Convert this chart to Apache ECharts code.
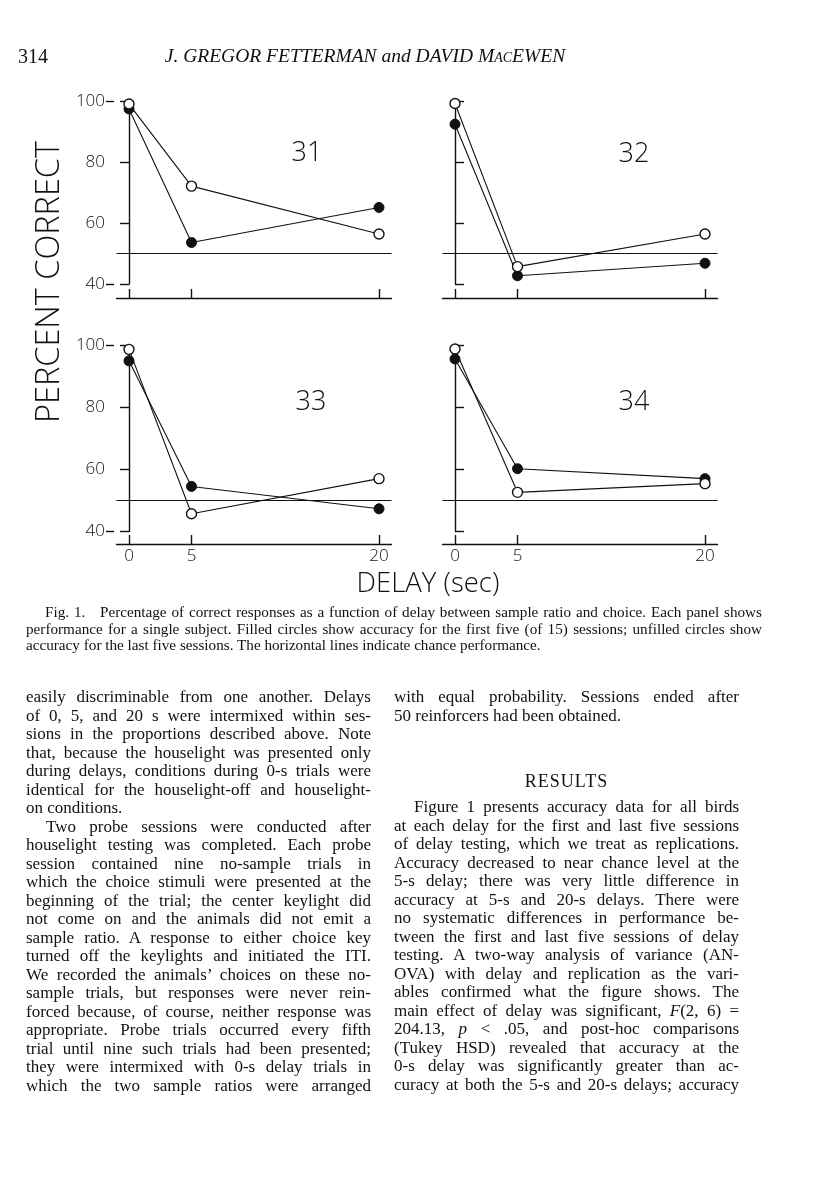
<!DOCTYPE html>
<html>
<head>
<meta charset="utf-8">
<script src="https://cdn.jsdelivr.net/npm/echarts@6/dist/echarts.min.js"></script>
<style>
  html, body { margin: 0; padding: 0; background: #fff; }
  #page { position: relative; width: 816px; height: 1200px; overflow: hidden; }
  #chart { position: absolute; left: 0; top: 0; width: 816px; height: 1200px; }
  .txt { position: absolute; font-family: "Liberation Serif", "Times New Roman", serif; color: #111; }
  .col { font-size: 17px; line-height: 18.5px; width: 345px; }
  .ln { display: block; white-space: nowrap; text-align: justify; text-align-last: justify; }
  .end { text-align-last: left; }
  .ind { padding-left: 20px; }
  .cap { font-size: 15.2px; line-height: 16.5px; width: 736px; }
  .sc { font-variant: small-caps; }
</style>
</head>
<body>
<div id="page">
  <div id="chart"></div>
  <div class="txt" style="left:18px; top:45px; font-size:20px;">314</div>
  <div class="txt" style="left:160px; top:45px; width:410px; text-align:center; font-size:19.5px; font-style:italic; white-space:nowrap;">J. GREGOR FETTERMAN and DAVID M<span class="sc">ac</span>EWEN</div>

  <div class="txt cap" style="left:26px; top:604px;">
    <span class="ln" style="padding-left:19px;">Fig. 1.&nbsp;&nbsp; Percentage of correct responses as a function of delay between sample ratio and choice. Each panel shows</span>
    <span class="ln">performance for a single subject. Filled circles show accuracy for the first five (of 15) sessions; unfilled circles show</span>
    <span class="ln end">accuracy for the last five sessions. The horizontal lines indicate chance performance.</span>
  </div>

  <div class="txt col" style="left:26px; top:688px;">
    <span class="ln">easily discriminable from one another. Delays</span>
    <span class="ln">of 0, 5, and 20 s were intermixed within ses-</span>
    <span class="ln">sions in the proportions described above. Note</span>
    <span class="ln">that, because the houselight was presented only</span>
    <span class="ln">during delays, conditions during 0-s trials were</span>
    <span class="ln">identical for the houselight-off and houselight-</span>
    <span class="ln end">on conditions.</span>
    <span class="ln ind">Two probe sessions were conducted after</span>
    <span class="ln">houselight testing was completed. Each probe</span>
    <span class="ln">session contained nine no-sample trials in</span>
    <span class="ln">which the choice stimuli were presented at the</span>
    <span class="ln">beginning of the trial; the center keylight did</span>
    <span class="ln">not come on and the animals did not emit a</span>
    <span class="ln">sample ratio. A response to either choice key</span>
    <span class="ln">turned off the keylights and initiated the ITI.</span>
    <span class="ln">We recorded the animals’ choices on these no-</span>
    <span class="ln">sample trials, but responses were never rein-</span>
    <span class="ln">forced because, of course, neither response was</span>
    <span class="ln">appropriate. Probe trials occurred every fifth</span>
    <span class="ln">trial until nine such trials had been presented;</span>
    <span class="ln">they were intermixed with 0-s delay trials in</span>
    <span class="ln">which the two sample ratios were arranged</span>
  </div>

  <div class="txt col" style="left:394px; top:688px;">
    <span class="ln">with equal probability. Sessions ended after</span>
    <span class="ln end">50 reinforcers had been obtained.</span>
  </div>
  <div class="txt col" style="left:394px; top:772px; text-align:center; font-size:18px; letter-spacing:1px;">RESULTS</div>
  <div class="txt col" style="left:394px; top:798px;">
    <span class="ln ind">Figure 1 presents accuracy data for all birds</span>
    <span class="ln">at each delay for the first and last five sessions</span>
    <span class="ln">of delay testing, which we treat as replications.</span>
    <span class="ln">Accuracy decreased to near chance level at the</span>
    <span class="ln">5-s delay; there was very little difference in</span>
    <span class="ln">accuracy at 5-s and 20-s delays. There were</span>
    <span class="ln">no systematic differences in performance be-</span>
    <span class="ln">tween the first and last five sessions of delay</span>
    <span class="ln">testing. A two-way analysis of variance (AN-</span>
    <span class="ln">OVA) with delay and replication as the vari-</span>
    <span class="ln">ables confirmed what the figure shows. The</span>
    <span class="ln">main effect of delay was significant, <i>F</i>(2, 6) =</span>
    <span class="ln">204.13, <i>p</i> &lt; .05, and post-hoc comparisons</span>
    <span class="ln">(Tukey HSD) revealed that accuracy at the</span>
    <span class="ln">0-s delay was significantly greater than ac-</span>
    <span class="ln">curacy at both the 5-s and 20-s delays; accuracy</span>
  </div>
</div>
<script>
// ---- data ----
var delays = [0, 5, 20];
var subjects = ['31', '32', '33', '34'];
var firstFive = {            // filled circles: first five sessions
  '31': [97.4, 53.6, 65.1],
  '32': [92.4, 42.7, 46.8],
  '33': [94.9, 54.5, 47.3],
  '34': [95.5, 60.2, 57.0]
};
var lastFive = {             // unfilled circles: last five sessions
  '31': [99.0, 72.1, 56.4],
  '32': [99.2, 45.7, 56.4],
  '33': [98.6, 45.7, 57.0],
  '34': [98.7, 52.6, 55.4]
};
var chanceLevel = [50];
var yTicks = [40, 60, 80, 100];
var xTicks = [0, 5, 20];

var FONT = '"Open Sans", "DejaVu Sans", sans-serif';
var INK = '#111';

// layout (pixels)
var panels = [
  { left: 116.5, top: 101, height: 183,   xOffset: 14,   yLabels: true,  xLabels: false },
  { left: 442.5, top: 101, height: 183,   xOffset: 14,   yLabels: false, xLabels: false },
  { left: 116.5, top: 345, height: 186.5, xOffset: 12.5, yLabels: true,  xLabels: true },
  { left: 442.5, top: 345, height: 186.5, xOffset: 12.5, yLabels: false, xLabels: true }
];
var labelPos = [[307, 153], [634, 154], [311, 402], [634, 402]];

function pairs(vals) { return delays.map(function (d, i) { return [d, vals[i]]; }); }

var grid = [], xAxis = [], yAxis = [], series = [], graphic = [];
panels.forEach(function (p, i) {
  grid.push({ left: p.left, top: p.top, width: 275, height: p.height });
  xAxis.push({
    type: 'value', gridIndex: i, min: -1, max: 21, position: 'bottom', offset: p.xOffset,
    axisLine: { show: true, onZero: false, lineStyle: { color: INK, width: 1.4 } },
    axisTick: { show: true, inside: true, length: 9, customValues: xTicks, lineStyle: { color: INK, width: 1.4 } },
    axisLabel: { show: p.xLabels, customValues: xTicks, margin: 4, fontSize: 17, fontFamily: FONT, fontWeight: 300, color: INK },
    splitLine: { show: false }
  });
  yAxis.push({
    type: 'value', gridIndex: i, min: 40, max: 100, interval: 20, position: 'left', offset: 10.5,
    axisLine: { show: true, lineStyle: { color: INK, width: 1.4 } },
    axisTick: { show: true, inside: !p.yLabels, length: 9, customValues: yTicks, lineStyle: { color: INK, width: 1.4 } },
    axisLabel: { show: p.yLabels, customValues: yTicks, margin: 1, fontSize: 17, fontFamily: FONT, fontWeight: 300, color: INK },
    splitLine: { show: false }
  });
  if (p.yLabels) {
    // end caps pointing into the panel
    yAxis.push({
      type: 'value', gridIndex: i, min: 40, max: 100, position: 'left', offset: 10.5,
      axisLine: { show: false },
      axisTick: { show: true, inside: true, length: 8, customValues: [40, 100], lineStyle: { color: INK, width: 1.4 } },
      axisLabel: { show: false },
      splitLine: { show: false }
    });
  }
});

// map grid index -> main y axis index
var yIdx = [], k = 0;
panels.forEach(function (p) { yIdx.push(k); k += p.yLabels ? 2 : 1; });

subjects.forEach(function (s, i) {
  series.push({
    type: 'line', name: 'first ' + s, xAxisIndex: i, yAxisIndex: yIdx[i],
    data: pairs(firstFive[s]), symbol: 'circle', symbolSize: 10,
    lineStyle: { color: INK, width: 1.1 },
    itemStyle: { color: INK, borderColor: INK, borderWidth: 1 },
    z: 3,
    markLine: {
      silent: true, symbol: 'none', label: { show: false },
      lineStyle: { color: INK, width: 1.2, type: 'solid' },
      data: [{ yAxis: chanceLevel[0] }]
    }
  });
  series.push({
    type: 'line', name: 'last ' + s, xAxisIndex: i, yAxisIndex: yIdx[i],
    data: pairs(lastFive[s]), symbol: 'circle', symbolSize: 10,
    lineStyle: { color: INK, width: 1.1 },
    itemStyle: { color: '#fff', borderColor: INK, borderWidth: 1.4 },
    z: 4
  });
  graphic.push({
    type: 'text', x: labelPos[i][0], y: labelPos[i][1],
    style: { text: s, fontSize: 27, fontFamily: FONT, fontWeight: 300, fill: INK, align: 'center', verticalAlign: 'middle' }
  });
});

graphic.push({
  type: 'text', x: 50, y: 282, rotation: Math.PI / 2,
  style: { text: 'PERCENT CORRECT', fontSize: 32.5, fontFamily: FONT, fontWeight: 300, fill: INK, align: 'center', verticalAlign: 'middle' }
});
graphic.push({
  type: 'text', x: 428, y: 584,
  style: { text: 'DELAY (sec)', fontSize: 27.5, fontFamily: FONT, fontWeight: 300, fill: INK, align: 'center', verticalAlign: 'middle' }
});

var chart = echarts.init(document.getElementById('chart'), null, { renderer: 'canvas' });
chart.setOption({
  animation: false,
  backgroundColor: '#fff',
  grid: grid, xAxis: xAxis, yAxis: yAxis, series: series, graphic: graphic
});
</script>
</body>
</html>
